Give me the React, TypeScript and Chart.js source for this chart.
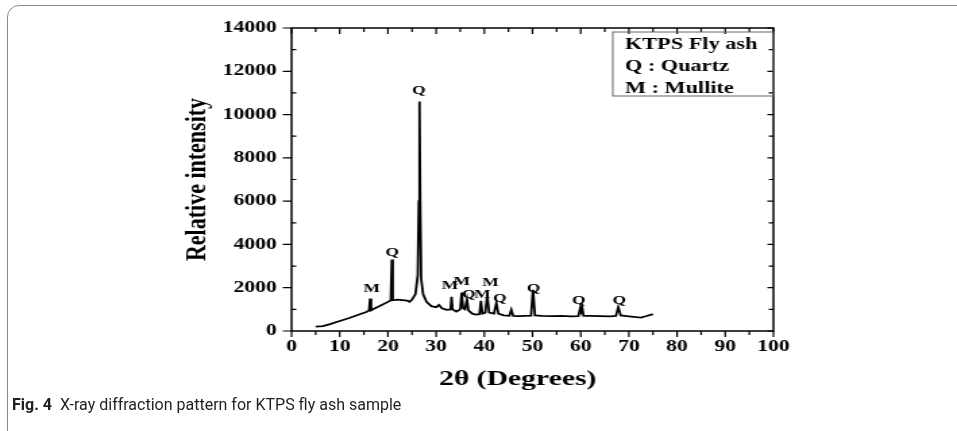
import React, { useEffect, useRef } from "react";
import { Chart, registerables } from "chart.js";

Chart.register(...registerables);

// ---- data ----
const twoTheta = [
  5.0, 6.5, 8, 10, 12, 14, 15.5, 16.1, 16.3, 16.5, 17, 18.5, 20.3, 20.6, 20.8, 21.0,
  22, 23, 24, 24.5, 25, 25.7, 26.2, 26.4, 26.55, 26.7, 26.9, 27.3, 28, 29, 30, 30.6,
  31.2, 32.2, 33.0, 33.2, 33.4, 34.2, 35.0, 35.3, 35.6, 36.0, 36.4, 36.7, 37.5, 38.2,
  39.0, 39.3, 39.6, 40.2, 40.6, 41.0, 42.0, 42.5, 42.9, 44, 45.2, 45.6, 46.0, 47, 48.5,
  49.7, 50.1, 50.5, 52, 54, 56, 58, 59.5, 59.9, 60.1, 60.3, 60.6, 62, 64, 66, 67.3,
  67.8, 68.3, 70, 71.5, 72.5, 73.5, 75,
];
const intensity = [
  200, 230, 320, 460, 600, 760, 880, 950, 1500, 960, 1020, 1180, 1380, 1420, 3300, 1420,
  1450, 1430, 1400, 1350, 1450, 1700, 2600, 6000, 10600, 6000, 2400, 1700, 1350, 1150, 1100, 1200,
  1050, 980, 1000, 1580, 1000, 900, 1000, 1780, 1050, 1000, 1450, 950, 800, 760,
  780, 1400, 800, 850, 1650, 850, 800, 1300, 800, 720, 700, 980, 700, 690, 700,
  710, 1900, 720, 700, 690, 700, 680, 690, 1050, 900, 1100, 700, 700, 690, 680, 700,
  1100, 720, 680, 640, 620, 680, 780,
];

const peakLabels = ["M", "Q", "Q", "M", "M", "Q", "M", "M", "Q", "Q", "Q", "Q"];
const peakLabelX = [16.6, 20.85, 26.4, 32.85, 35.3, 36.8, 39.6, 41.3, 43.2, 50.2, 59.6, 68.0];
const peakLabelY = [1970, 3620, 11090, 2080, 2280, 1660, 1660, 2230, 1510, 1970, 1400, 1400];

const xMin = 0;
const xMax = 100;
const xStep = 10;
const yMin = 0;
const yMax = 14000;
const yStep = 2000;

const legendLines = ["KTPS Fly ash", "Q : Quartz", "M : Mullite"];
const xTitle = "2\u03B8 (Degrees)";
const yTitle = "Relative intensity";
const captionBold = "Fig. 4";
const captionText = "X-ray diffraction pattern for KTPS fly ash sample";

// horizontal stretch of the figure
const STRETCH = 1.35;
const W = Math.round(957 / STRETCH);
const H = 431;
const SERIF = "'Liberation Serif', 'Times New Roman', serif";

const decorPlugin = {
  id: "decor",
  afterDraw(chart: any) {
    const { ctx, chartArea: a, scales } = chart;
    const x = scales.x;
    const y = scales.y;
    ctx.save();
    // frame
    ctx.strokeStyle = "#000";
    ctx.lineWidth = 1.5;
    ctx.strokeRect(a.left, a.top, a.right - a.left, a.bottom - a.top);
    // tick marks
    ctx.lineWidth = 1.2;
    ctx.beginPath();
    for (let v = xMin; v <= xMax; v += xStep / 2) {
      const px = x.getPixelForValue(v);
      const major = v % xStep === 0;
      const L = major ? 6 : 4;
      ctx.moveTo(px, a.bottom);
      ctx.lineTo(px, a.bottom + L);
      ctx.moveTo(px, a.top);
      ctx.lineTo(px, a.top + L);
    }
    for (let v = yMin; v <= yMax; v += yStep / 2) {
      const py = y.getPixelForValue(v);
      const major = v % yStep === 0;
      if (major) {
        ctx.moveTo(a.left, py);
        ctx.lineTo(a.left - 6.5, py);
      } else {
        ctx.moveTo(a.left, py);
        ctx.lineTo(a.left + 3.5, py);
      }
      ctx.moveTo(a.right, py);
      ctx.lineTo(a.right - (major ? 4.5 : 3.5), py);
    }
    ctx.stroke();

    // peak labels
    ctx.fillStyle = "#000";
    ctx.font = `bold 13px ${SERIF}`;
    ctx.textAlign = "center";
    ctx.textBaseline = "middle";
    for (let i = 0; i < peakLabels.length; i++) {
      ctx.fillText(peakLabels[i], x.getPixelForValue(peakLabelX[i]), y.getPixelForValue(peakLabelY[i]));
    }

    // legend box
    const bx = a.right - 119;
    const by = a.top + 4;
    ctx.strokeStyle = "#666";
    ctx.lineWidth = 1;
    ctx.strokeRect(bx, by, a.right - bx, 96 - by);
    ctx.font = `bold 16.5px ${SERIF}`;
    ctx.textAlign = "left";
    ctx.textBaseline = "alphabetic";
    const baselines = [49, 71, 92.5];
    legendLines.forEach((t, i) => ctx.fillText(t, bx + 9, baselines[i]));

    // x axis title
    ctx.font = `bold 22px ${SERIF}`;
    ctx.textAlign = "center";
    ctx.textBaseline = "middle";
    ctx.fillText(xTitle, (a.left + a.right) / 2 - 11, 379);
    ctx.restore();
  },
};

export default function App() {
  const ref = useRef<HTMLCanvasElement | null>(null);

  useEffect(() => {
    document.body.style.margin = "0";
    document.body.style.overflow = "hidden";
    const canvas = ref.current;
    if (!canvas) return;
    const chart = new Chart(canvas, {
      type: "line",
      data: {
        datasets: [
          {
            data: twoTheta.map((t, i) => ({ x: t, y: intensity[i] })),
            borderColor: "#000",
            borderWidth: 1.8,
            pointRadius: 0,
            tension: 0,
            fill: false,
          },
        ],
      },
      options: {
        responsive: false,
        maintainAspectRatio: false,
        animation: false,
        devicePixelRatio: 1,
        layout: { padding: { left: 120, right: 136, top: 28, bottom: 0 } },
        plugins: { legend: { display: false }, tooltip: { enabled: false } },
        scales: {
          x: {
            type: "linear",
            min: xMin,
            max: xMax,
            grid: { display: false, drawTicks: false, tickLength: 0 },
            border: { display: false },
            ticks: {
              stepSize: xStep,
              autoSkip: false,
              maxRotation: 0,
              padding: 6,
              color: "#000",
              font: { family: SERIF, size: 16, weight: "bold" },
              callback: (v: any) => String(v),
            },
            afterFit: (s: any) => {
              s.height = 100;
            },
          },
          y: {
            type: "linear",
            min: yMin,
            max: yMax,
            grid: { display: false, drawTicks: false, tickLength: 0 },
            border: { display: false },
            title: {
              display: true,
              text: yTitle,
              color: "#000",
              font: { family: SERIF, size: 22, weight: "bold" },
              padding: { top: 13.5, bottom: 0 },
            },
            ticks: {
              stepSize: yStep,
              padding: 11,
              color: "#000",
              font: { family: SERIF, size: 16, weight: "bold" },
              callback: (v: any) => String(v),
            },
            afterFit: (s: any) => {
              s.width = 96;
            },
          },
        },
      },
      plugins: [decorPlugin],
    } as any);
    return () => chart.destroy();
  }, []);

  return (
    <div style={{ position: "relative", width: 957, height: 431, overflow: "hidden", background: "#fff" }}>
      <div
        style={{
          position: "absolute",
          left: 7,
          top: 5,
          width: 1000,
          height: 500,
          border: "1.5px solid #8a8a8a",
          borderRadius: 12,
          boxSizing: "border-box",
        }}
      />
      <canvas
        ref={ref}
        width={W}
        height={H}
        style={{ position: "absolute", left: 0, top: 0, width: 957, height: H, display: "block" }}
      />
      <div
        style={{
          position: "absolute",
          left: 12,
          top: 395,
          fontFamily: "Roboto, 'Noto Sans', sans-serif",
          fontSize: 16,
          color: "#231f20",
          whiteSpace: "nowrap",
        }}
      >
        <b>{captionBold}</b>&nbsp;&nbsp;{captionText}
      </div>
    </div>
  );
}
